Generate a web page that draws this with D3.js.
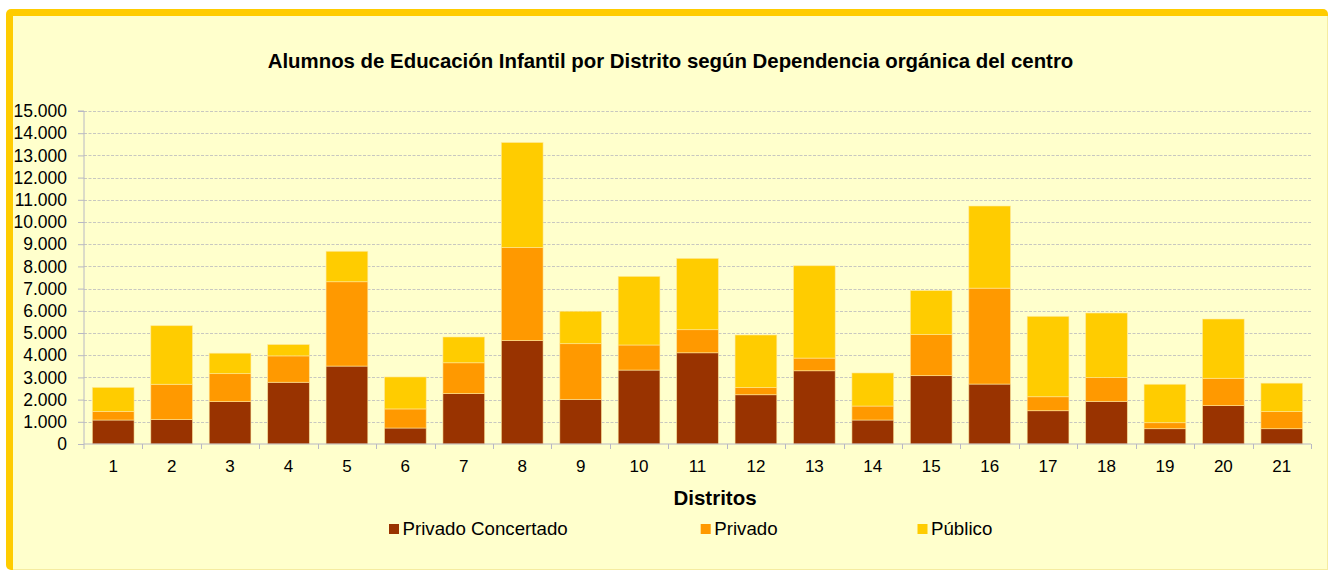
<!DOCTYPE html>
<html><head><meta charset="utf-8">
<script src="https://cdn.jsdelivr.net/npm/d3@7"></script>
<style>
html,body{margin:0;padding:0;background:#fff;}
svg{display:block;font-family:"Liberation Sans",Arial,sans-serif;}
</style></head>
<body>
<svg id="chart" width="1328" height="570"></svg>
<script>
const categories = ["1","2","3","4","5","6","7","8","9","10","11","12","13","14","15","16","17","18","19","20","21"];
const privadoConcertado = [1080,1100,1910,2780,3510,720,2270,4660,2010,3330,4110,2220,3300,1080,3080,2700,1500,1920,690,1730,690];
const privado = [390,1590,1260,1190,3800,860,1390,4190,2510,1130,1040,320,570,630,1850,4320,630,1070,270,1230,770];
const publico = [1080,2640,920,510,1370,1440,1160,4730,1460,3090,3210,2370,4160,1490,1980,3700,3620,2910,1730,2670,1280];
const seriesNames = ["Privado Concertado","Privado","Público"];
const seriesColors = ["#993300","#ff9900","#ffcc00"];
const yTicks = [0,1000,2000,3000,4000,5000,6000,7000,8000,9000,10000,11000,12000,13000,14000,15000];
const title = "Alumnos de Educación Infantil por Distrito según Dependencia orgánica del centro";
const xTitle = "Distritos";

(function(){
const svg = d3.select("#chart");
// frame
svg.append("rect").attr("x",6).attr("y",9).attr("width",1322).attr("height",561).attr("rx",5).attr("fill","#ffcc00");
svg.append("rect").attr("x",13).attr("y",16).attr("width",1315).attr("height",554).attr("fill","#ffffcc");
svg.append("line").attr("x1",1327.5).attr("x2",1327.5).attr("y1",16).attr("y2",570).attr("stroke","#f5eca0").attr("stroke-width",1);
svg.append("line").attr("x1",13).attr("x2",1328).attr("y1",569.5).attr("y2",569.5).attr("stroke","#f5eca0").attr("stroke-width",1);

const pL = 84, pR = 1311, pT = 111, pB = 444;
const x = d3.scaleBand().domain(categories).range([pL,pR]).paddingInner(0.286).paddingOuter(0.143);
const y = d3.scaleLinear().domain([0,15000]).range([pB,pT]);

// title
svg.append("text").attr("x",670.5).attr("y",68).attr("text-anchor","middle")
  .attr("font-size",20.4).attr("font-weight","bold").attr("fill","#000").text(title);

// gridlines
svg.append("g").selectAll("line").data(yTicks.filter(d=>d>0)).join("line")
  .attr("x1",pL).attr("x2",pR).attr("y1",d=>Math.round(y(d))+0.5).attr("y2",d=>Math.round(y(d))+0.5)
  .attr("stroke","#c8c8c0").attr("stroke-width",1).attr("stroke-dasharray","3,1.5");

// stacked bars
const data = categories.map((c,i)=>({cat:c, pc:privadoConcertado[i], pr:privado[i], pu:publico[i]}));
const stack = d3.stack().keys(["pc","pr","pu"])(data);
svg.append("g").selectAll("g").data(stack).join("g").attr("fill",(d,i)=>seriesColors[i])
  .selectAll("rect").data(d=>d).join("rect")
  .attr("x",d=>x(d.data.cat)).attr("width",x.bandwidth())
  .attr("y",d=>y(d[1])).attr("height",d=>y(d[0])-y(d[1]))
  .attr("stroke","#ffe9a0").attr("stroke-opacity",0.7).attr("stroke-width",0.8);

// y axis
const yAxis = d3.axisLeft(y).tickValues(yTicks).tickSize(6).tickPadding(11)
  .tickFormat(d=>d3.format(",")(d).replace(/,/g,"."));
const ya = svg.append("g").attr("transform",`translate(${pL},0)`).call(yAxis);
ya.select(".domain").attr("stroke","#b8b8c4").attr("d",`M-6,${pT}H0V${pB+5}`);
ya.selectAll(".tick line").attr("stroke","#b8b8c4");
ya.selectAll(".tick text").attr("font-size",17.5).attr("fill","#000").attr("font-family","Liberation Sans, Arial, sans-serif");

// x axis
const xa = svg.append("g").attr("transform",`translate(0,${pB})`)
  .call(d3.axisBottom(x).tickSize(0).tickPadding(16));
xa.select(".domain").attr("stroke","#b8b8c4").attr("d",`M${pL},0H${pR}`);
xa.selectAll(".tick text").attr("font-size",17).attr("fill","#000").attr("font-family","Liberation Sans, Arial, sans-serif");
// boundary ticks
const step = x.step();
svg.append("g").selectAll("line").data(d3.range(1,categories.length+1)).join("line")
  .attr("x1",i=>Math.round(pL+i*step)+0.5).attr("x2",i=>Math.round(pL+i*step)+0.5)
  .attr("y1",pB).attr("y2",pB+5).attr("stroke","#b8b8c4");

// x title
svg.append("text").attr("x",715).attr("y",505).attr("text-anchor","middle")
  .attr("font-size",20.5).attr("font-weight","bold").attr("fill","#000").text(xTitle);

// legend
const legX = [389,700.7,917.5];
const lg = svg.append("g").selectAll("g").data(seriesNames).join("g")
  .attr("transform",(d,i)=>`translate(${legX[i]},524)`);
lg.append("rect").attr("width",10).attr("height",10).attr("fill",(d,i)=>seriesColors[i]);
lg.append("text").attr("x",13.5).attr("y",11).attr("font-size",18.7).attr("fill","#000").text(d=>d);
})();
</script>
</body></html>
